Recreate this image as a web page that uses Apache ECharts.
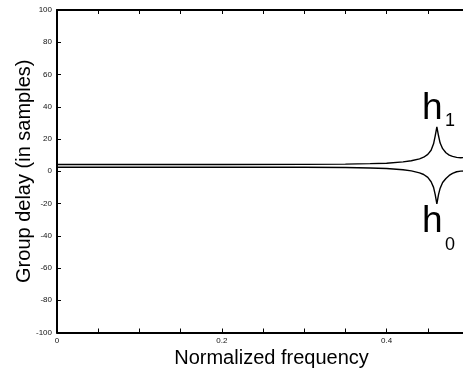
<!DOCTYPE html>
<html><head><meta charset="utf-8">
<script src="https://cdn.jsdelivr.net/npm/echarts@6/dist/echarts.min.js"></script>
<style>html,body{margin:0;padding:0;overflow:hidden;background:#fff;width:463px;height:377px}#c{width:480px;height:377px}</style>
</head><body><div id="c"></div>
<script>
const freq = [0, 0.1, 0.2, 0.3, 0.35, 0.38, 0.40, 0.42, 0.43, 0.44, 0.445, 0.45, 0.454, 0.457, 0.459, 0.461, 0.463, 0.465, 0.468, 0.472, 0.476, 0.48, 0.485, 0.49, 0.495, 0.5];
const h1 = [4.2, 4.2, 4.2, 4.25, 4.4, 4.7, 5.0, 5.8, 6.5, 7.7, 8.7, 10.5, 13, 17, 22, 27.5, 22, 17.5, 14, 11.5, 10, 9.2, 8.6, 8.4, 8.6, 9];
const h0 = [2.5, 2.5, 2.5, 2.45, 2.3, 2.0, 1.7, 0.9, 0.2, -1.0, -2.0, -3.8, -6.5, -10, -14.5, -20.2, -14.5, -10.5, -7, -4.5, -2.6, -1.3, -0.3, 0.1, 0.2, 0.1];
const xLabels = [0, 0.2, 0.4];
const yTicks = [-100, -80, -60, -40, -20, 0, 20, 40, 60, 80, 100];

const chart = echarts.init(document.getElementById('c'));
const font = 'Liberation Sans, Arial, sans-serif';
const tickStyle = {show: true, inside: true, length: 4, lineStyle: {color: '#000', width: 1}};
chart.setOption({
  animation: false,
  grid: {left: 57, right: 11, top: 10, bottom: 44.5, containLabel: false, outerBoundsMode: 'none'},
  xAxis: [{
    type: 'value', min: 0, max: 0.5, interval: 0.05,
    axisLine: {show: true, onZero: false, lineStyle: {color: '#000', width: 2}},
    axisTick: tickStyle,
    splitLine: {show: false},
    axisLabel: {color: '#111', fontSize: 8, fontFamily: font, margin: 4,
      formatter: v => xLabels.some(l => Math.abs(l - v) < 1e-9) ? String(+v.toFixed(2)) : ''},
    name: 'Normalized frequency', nameLocation: 'middle', nameGap: 16, nameMoveOverlap: false,
    nameTextStyle: {fontSize: 20, color: '#000', fontFamily: font, padding: [0, 0, 0, 17]}
  }, {
    type: 'value', position: 'top', min: 0, max: 0.5, interval: 0.05,
    axisLine: {show: true, onZero: false, lineStyle: {color: '#000', width: 2}},
    axisTick: tickStyle, axisLabel: {show: false}, splitLine: {show: false}
  }],
  yAxis: {
    type: 'value', min: -100, max: 100, interval: 20,
    axisLine: {show: true, onZero: false, lineStyle: {color: '#000', width: 2}},
    axisTick: tickStyle,
    splitLine: {show: false},
    axisLabel: {color: '#111', fontSize: 8, fontFamily: font, margin: 5,
      formatter: v => yTicks.includes(v) ? String(v) : ''},
    name: 'Group delay (in samples)', nameLocation: 'middle', nameGap: 23, nameMoveOverlap: false,
    nameTextStyle: {fontSize: 20, color: '#000', fontFamily: font}
  },
  series: [
    {type: 'line', name: 'h1', data: freq.map((f, i) => [f, h1[i]]), showSymbol: false,
     lineStyle: {color: '#000', width: 1.4}},
    {type: 'line', name: 'h0', data: freq.map((f, i) => [f, h0[i]]), showSymbol: false,
     lineStyle: {color: '#000', width: 1.4}}
  ],
  graphic: [
    {type: 'text', x: 422, y: 108.5, style: {text: 'h', font: '37px ' + font, fill: '#000', verticalAlign: 'middle'}},
    {type: 'text', x: 445, y: 121, style: {text: '1', font: '18px ' + font, fill: '#000', verticalAlign: 'middle'}},
    {type: 'text', x: 422, y: 221.5, style: {text: 'h', font: '37px ' + font, fill: '#000', verticalAlign: 'middle'}},
    {type: 'text', x: 445, y: 245, style: {text: '0', font: '18px ' + font, fill: '#000', verticalAlign: 'middle'}}
  ]
});
</script></body></html>
